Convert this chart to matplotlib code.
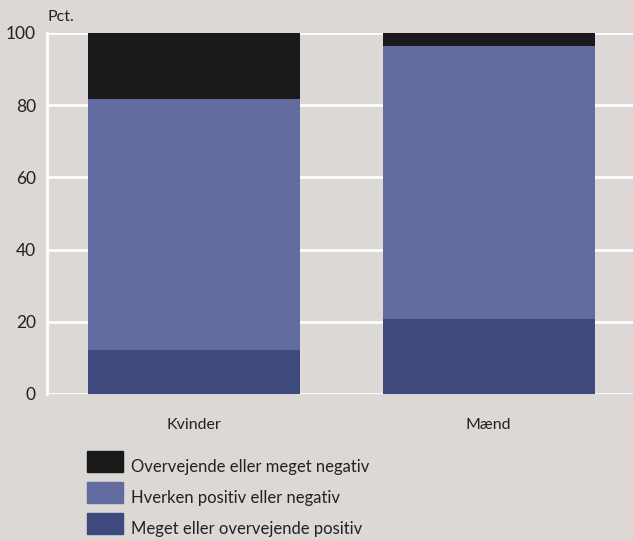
import matplotlib
matplotlib.use("Agg")
import matplotlib.pyplot as plt
from matplotlib.patches import Patch

plt.rcParams['font.family'] = ['Lato', 'DejaVu Sans']

groups = ["Kvinder", "Mænd"]
positive = [12.2, 20.8]
neutral = [69.6, 75.7]
negative = [18.2, 3.5]
labels = ["Overvejende eller meget negativ",
          "Hverken positiv eller negativ",
          "Meget eller overvejende positiv"]

bg = "#dbd8d5"
col_neg = "#191919"
col_neu = "#626b9f"
col_pos = "#3e4a7e"

fig = plt.figure(figsize=(6.33, 5.4), dpi=100, facecolor=bg)
ax = fig.add_axes([0.0743, 0.2704, 0.93, 0.6685], facecolor=bg)

x = range(len(groups))
bottom2 = [a + b for a, b in zip(positive, neutral)]
ax.bar(x, positive, width=0.72, color=col_pos, zorder=3)
ax.bar(x, neutral, width=0.72, bottom=positive, color=col_neu, zorder=3)
ax.bar(x, negative, width=0.72, bottom=bottom2, color=col_neg, zorder=3)

ax.set_xlim(-0.5, 1.5)
ax.set_ylim(0, 100)
ax.set_yticks([0, 20, 40, 60, 80, 100])
ax.set_xticks(list(x))
ax.set_xticklabels(groups)
ax.yaxis.grid(True, color="white", linewidth=2, zorder=1)
ax.set_axisbelow(True)
for s in ["top", "right", "bottom"]:
    ax.spines[s].set_visible(False)
ax.spines["left"].set_color("white")
ax.spines["left"].set_linewidth(2)
ax.tick_params(axis="both", length=0, labelsize=12.5, colors="#222222")
ax.tick_params(axis="y", pad=8)
ax.tick_params(axis="x", pad=17, labelsize=11.5)
ax.text(0.0, 1.025, "Pct.", transform=ax.transAxes, fontsize=11.5,
        color="#222222", ha="left", va="bottom")

handles = [Patch(color=col_neg), Patch(color=col_neu), Patch(color=col_pos)]
leg = fig.legend(handles, labels, loc="upper left", bbox_to_anchor=(0.1374, 0.165),
                 frameon=False, fontsize=12, handlelength=2.16, handleheight=1.55,
                 labelspacing=0.62, handletextpad=0.5, borderaxespad=0,
                 borderpad=0, labelcolor="#222222")
# text sits a little below the swatch centre
for t in leg.get_texts():
    t.set_y(-5)

fig.savefig("out.png", dpi=100, facecolor=bg)
